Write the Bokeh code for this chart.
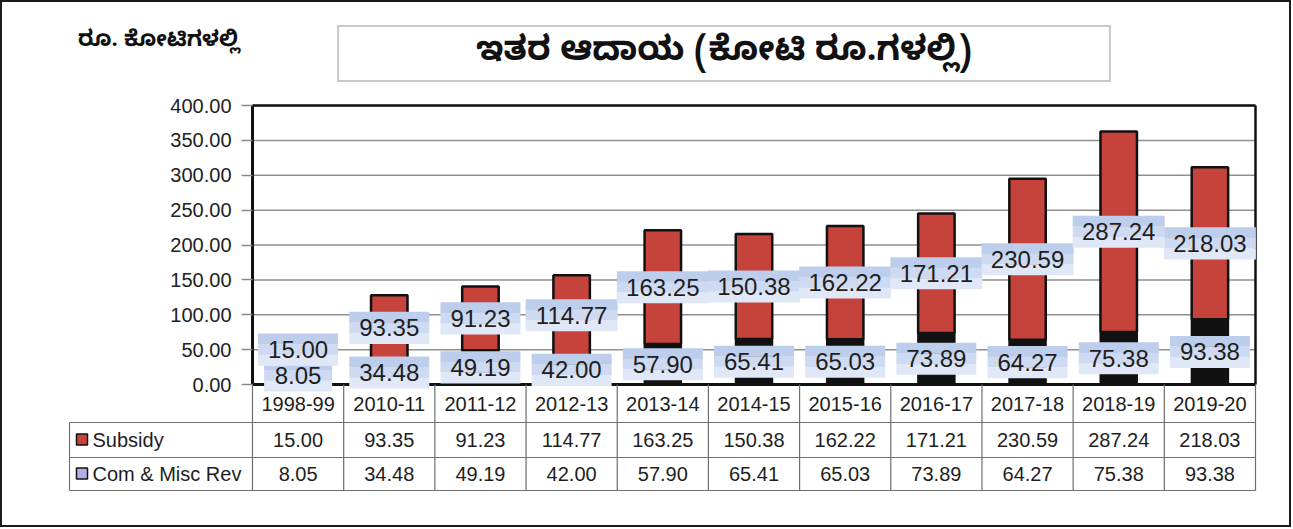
from bokeh.plotting import figure
from bokeh.models import ColumnDataSource, Range1d, FixedTicker, NumeralTickFormatter, Div
from bokeh.layouts import column
from bokeh.embed import file_html
from bokeh.resources import INLINE
from bokeh.core.properties import value

# ---------------- data ----------------
years = ["1998-99", "2010-11", "2011-12", "2012-13", "2013-14", "2014-15",
         "2015-16", "2016-17", "2017-18", "2018-19", "2019-20"]
subsidy = [15.00, 93.35, 91.23, 114.77, 163.25, 150.38, 162.22, 171.21, 230.59, 287.24, 218.03]
com_misc = [8.05, 34.48, 49.19, 42.00, 57.90, 65.41, 65.03, 73.89, 64.27, 75.38, 93.38]
y_ticks = [0, 50, 100, 150, 200, 250, 300, 350, 400]
series_names = ["Subsidy", "Com & Misc Rev"]
title_text = "ಇತರ ಆದಾಯ (ಕೋಟಿ ರೂ.ಗಳಲ್ಲಿ)"
unit_text = "ರೂ. ಕೋಟಿಗಳಲ್ಲಿ"

# ---------------- styling / layout constants ----------------
RED = "#c5433a"
DARK = "#111111"
LEGEND_COM = "#b3aee3"
GRID = "#8f8f8f"
TABLE_LINE = "#6e6e6e"
FONT = "Liberation Sans"
KFONT = "'Noto Sans Kannada','Noto Sans','Lohit Kannada',sans-serif"

W = 1287
PXX = 1003 / 11.0          # px per category
PXY = (384 - 105) / 400.0  # px per value unit
Y0 = 384                   # page y of value 0
X0 = 252                   # page x of first category edge


def ypx(py):
    return -(py - Y0) / PXY


def xpx(px):
    return (px - X0) / PXX


n = len(years)
xs = [i + 0.5 for i in range(n)]
totals = [c + s for c, s in zip(com_misc, subsidy)]
com_ly = [max(c / 2.0, 13) for c in com_misc]
sub_ly = [max(c + s / 2.0, cl + 37) for c, s, cl in zip(com_misc, subsidy, com_ly)]
com_txt = [f"{v:.2f}" for v in com_misc]
sub_txt = [f"{v:.2f}" for v in subsidy]
com_w = [12 * len(t) + 20 for t in com_txt]
sub_w = [12 * len(t) + 20 for t in sub_txt]
band = 10.6 / PXY

src = ColumnDataSource(dict(
    x=xs, year=years, com=com_misc, total=totals,
    com_ly=com_ly, sub_ly=sub_ly, com_txt=com_txt, sub_txt=sub_txt,
    com_w=com_w, sub_w=sub_w,
    com_top=[v + band for v in com_ly], com_bot=[v - band for v in com_ly],
    sub_top=[v + band for v in sub_ly], sub_bot=[v - band for v in sub_ly],
))

# ---------------- header ----------------
header_html = f"""
<div style="position:relative;width:{W}px;height:91px;background:#fff;">
  <div style="position:absolute;left:76px;top:26px;font-family:{KFONT};font-weight:bold;font-size:22px;color:#111;white-space:nowrap;">{unit_text}</div>
  <div style="position:absolute;left:335px;top:23px;width:774px;height:57px;box-sizing:border-box;border:2px solid #c9c9c9;padding-top:4px;
       display:flex;align-items:center;justify-content:center;font-family:{KFONT};font-weight:bold;font-size:34px;color:#111;white-space:nowrap;">{title_text}</div>
</div>
"""
header = Div(text=header_html, width=W, height=91, margin=0)

# ---------------- chart + data table ----------------
p = figure(width=W, height=432, output_backend="svg", toolbar_location=None,
           x_range=Range1d(xpx(68), xpx(1258)),
           y_range=Range1d(ypx(492), ypx(94)),
           x_axis_location=None,
           min_border_left=66, min_border_right=31, min_border_top=1, min_border_bottom=33)
p.outline_line_color = None
p.background_fill_color = "white"
p.border_fill_color = "white"
p.xgrid.visible = False
p.ygrid.visible = False

ax = p.yaxis[0]
ax.fixed_location = 0
ax.ticker = FixedTicker(ticks=y_ticks)
ax.bounds = (0, 400)
ax.formatter = NumeralTickFormatter(format="0.00")
ax.axis_line_color = DARK
ax.axis_line_width = 3
ax.major_tick_line_color = "#8a8a8a"
ax.major_tick_line_width = 1.5
ax.major_tick_out = 11
ax.major_tick_in = 0
ax.minor_tick_line_color = None
ax.major_label_text_font = FONT
ax.major_label_text_font_size = "20px"
ax.major_label_text_color = "#222222"
ax.major_label_standoff = 10

# grid lines at the axis ticks
p.segment(x0=[0] * len(y_ticks), y0=y_ticks, x1=[n] * len(y_ticks), y1=y_ticks,
          line_color=GRID, line_width=1.5)

# bars
p.vbar(x="x", bottom=0, top="com", width=0.4, source=src,
       fill_color=DARK, line_color=DARK, line_width=2)
p.vbar(x="x", bottom="com", top="total", width=0.4, source=src,
       fill_color=RED, line_color=DARK, line_width=2.5)

# plot frame (top, bottom, right)
p.segment(x0=[0, 0, n], y0=[400, 0, 0], x1=[n, n, n], y1=[400, 0, 400],
          line_color=DARK, line_width=[2.5, 3, 2.5])

# value labels
for key, top, bot, wkey, tkey in (("com_ly", "com_top", "com_bot", "com_w", "com_txt"),
                                  ("sub_ly", "sub_top", "sub_bot", "sub_w", "sub_txt")):
    p.rect(x="x", y=top, width=wkey, height=10.9, width_units="screen", height_units="screen",
           source=src, fill_color="#bdcdec", line_color=None)
    p.rect(x="x", y=key, width=wkey, height=10.9, width_units="screen", height_units="screen",
           source=src, fill_color="#cedaf1", line_color=None)
    p.rect(x="x", y=bot, width=wkey, height=10.9, width_units="screen", height_units="screen",
           source=src, fill_color="#e0e8f7", line_color=None)
    p.text(x="x", y=key, text=tkey, source=src, text_align="center", text_baseline="middle",
           text_font=value(FONT), text_font_size="24px", text_color="#1e1e1e")

# data table lines
r1, r2, r3 = ypx(422), ypx(457), ypx(490)
x_left = xpx(69)
bx = list(range(0, n + 1))
p.segment(x0=[x_left] * 3, y0=[r1, r2, r3], x1=[n] * 3, y1=[r1, r2, r3],
          line_color=TABLE_LINE, line_width=1.2)
p.segment(x0=[x_left], y0=[r1], x1=[x_left], y1=[r3], line_color=TABLE_LINE, line_width=1.2)
p.segment(x0=bx, y0=[0] * len(bx), x1=bx, y1=[r3] * len(bx),
          line_color=TABLE_LINE, line_width=1.2)

# table texts
tsrc = ColumnDataSource(dict(x=xs, year=years, sub=sub_txt, com=com_txt))
for col, py in (("year", 403), ("sub", 439.5), ("com", 473.5)):
    p.text(x="x", y=ypx(py), text=col, source=tsrc, text_align="center", text_baseline="middle",
           text_font=value(FONT), text_font_size="20px", text_color="#1e1e1e")

lsrc = ColumnDataSource(dict(x=[xpx(81.5)] * 2, tx=[xpx(92)] * 2,
                             y=[ypx(439), ypx(473)], name=series_names,
                             color=[RED, LEGEND_COM]))
p.scatter(x="x", y="y", source=lsrc, marker="square", size=11, fill_color="color",
          line_color=DARK, line_width=1.5)
p.text(x="tx", y="y", text="name", source=lsrc, text_align="left", text_baseline="middle",
       text_font=value(FONT), text_font_size="20px", text_color="#1e1e1e")

layout = column(header, p, spacing=0,
                styles={"border": "2px solid #1c1c1c", "background-color": "white"})

open("out.html", "w").write(file_html(layout, INLINE))
